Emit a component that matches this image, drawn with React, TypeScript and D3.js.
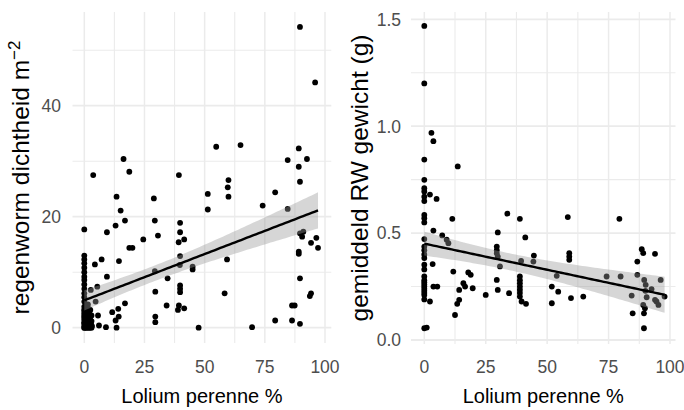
import React from "react";
import * as d3 from "d3";

// ---------- data ----------
const xTicks = [0, 25, 50, 75, 100];
const xMinor = [12.5, 37.5, 62.5, 87.5];
const leftYTicks = [0, 20, 40];
const leftYMinor = [10, 30, 50];
const rightYTicks = [0, 0.5, 1.0, 1.5];
const rightYLabels = ["0.0", "0.5", "1.0", "1.5"];
const rightYMinor = [0.25, 0.75, 1.25];

const xTitle = "Lolium perenne %";
const leftYTitle = "regenworm dichtheid m";
const leftYTitleSup = "\u22122";
const rightYTitle = "gemiddeld RW gewicht (g)";

// regenworm dichtheid (x = Lolium perenne %, y = density)
const densityPoints: [number, number][] = [
  [0, 17.7], [0, 13.0], [0, 12.3], [0, 11.6], [0, 10.8], [0, 10.0], [0, 9.2], [0, 8.6],
  [0, 7.8], [0, 7.0], [0, 6.2], [0, 5.5], [0, 4.7], [0, 3.8], [0, 3.0], [0, 2.2],
  [0, 1.5], [0, 0.8], [0, 0], [0.4, 0.3], [1, 0], [1, 0.6], [1, 1.5], [1, 2.5],
  [1, 3.5], [2, 0], [2, 1], [2, 2], [3, 0], [3, 1.2], [0.5, 2.8], [2.5, 3.2],
  [1.5, 4.2], [2.7, 6.8], [4.7, 4.7],
  // overlapping points in the dense cluster near the origin
  [0, 0], [0, 0.4], [0, 1], [0, 1.9], [0, 2.6], [0, 3.3], [0.5, 0], [0.5, 1.2],
  [0.5, 2], [0.8, 0.2], [1.2, 0.9], [1.3, 2], [1.5, 0], [1.5, 0.4], [1.5, 3],
  [1.8, 1.4], [2, 0.2], [2, 2.7], [2.2, 0.6], [2.4, 1.6], [2.5, 0], [2.8, 0.7],
  [3, 2.2], [3.2, 0.3], [0.3, 0.6], [0.7, 3.6], [1.1, 0.1], [0.2, 1.4], [2.6, 1.1],
  [1.9, 3.4],
  [3.7, 27.5], [4.4, 11.4], [5.4, 7.4], [5.7, 2.2], [6.1, 0.4], [7.2, 12.3], [9.0, 0.1],
  [9.4, 17.2], [9.4, 9.2], [11.6, 2.8], [13.0, 1.3], [13.4, 0], [13.0, 18.4], [13.4, 23.6],
  [14.1, 3.4], [14.3, 2.0], [14.4, 12.0], [15.1, 21.1], [16.3, 30.4], [16.9, 19.3],
  [16.9, 4.4], [18.7, 28.1], [18.7, 14.4], [20.0, 14.4], [24.5, 15.9], [28.9, 23.3],
  [29.3, 19.3], [29.3, 10.2], [29.5, 6.5], [29.5, 2.0], [29.5, 1.0], [30.6, 16.6],
  [34.2, 4.0], [34.6, 8.9], [38.9, 3.2], [39.2, 15.4], [39.3, 27.5], [39.3, 4.0],
  [39.8, 18.9], [39.8, 17.2], [39.8, 12.9], [39.7, 11.3], [39.8, 7.6], [39.8, 7.0],
  [39.8, 6.4], [41.5, 15.9], [41.5, 3.5], [45.0, 11.0], [45.0, 10.5], [47.5, 0],
  [51.3, 24.1], [51.3, 21.3], [54.8, 32.6], [58.3, 6.2], [59.3, 12.3], [59.6, 25.3],
  [59.9, 26.6], [59.9, 23.6], [64.9, 32.9], [69.7, 0.1], [74.1, 22.0], [79.3, 24.4],
  [79.3, 1.3], [84.5, 30.2], [84.5, 21.4], [86.3, 4.0], [87.4, 4.0], [86.3, 1.3],
  [89.1, 32.3], [89.1, 29.0], [89.6, 54.2], [89.6, 26.3], [89.6, 17.0], [90.5, 16.4],
  [91.0, 17.3], [89.1, 13.7], [89.1, 13.3], [89.6, 8.9], [89.6, 0.7], [92.5, 30.4],
  [93.7, 5.7], [94.2, 6.2], [94.2, 15.3], [95.9, 44.2], [96.4, 16.2], [97.1, 14.4],
];

// gemiddeld RW gewicht (x = Lolium perenne %, y = weight g)
const weightPoints: [number, number][] = [
  [0, 1.469], [0, 1.2], [0, 0.844], [0, 0.749], [0, 0.71], [0, 0.695], [0, 0.67],
  [0, 0.65], [0, 0.585], [0, 0.57], [0, 0.55], [0, 0.472], [0, 0.437], [0, 0.42],
  [0, 0.40], [0, 0.383], [0, 0.352], [0, 0.33], [0, 0.297], [0, 0.28], [0, 0.26],
  [0, 0.25], [0, 0.23], [0, 0.21], [0, 0.19], [0, 0.22], [0, 0.27], [0, 0.24],
  [0, 0.055], [1, 0.058],
  [2.3, 0.68], [2.9, 0.969], [3.7, 0.93], [5.0, 0.66], [3.4, 0.355], [3.7, 0.512],
  [3.7, 0.25], [5.3, 0.25], [2.3, 0.18], [7.3, 0.489], [9.1, 0.469], [9.8, 0.453],
  [11.4, 0.567], [11.8, 0.32], [12.5, 0.117], [13.4, 0.169], [13.6, 0.812], [14.2, 0.188],
  [14.2, 0.234], [15.9, 0.266], [16.6, 0.25], [17.9, 0.316], [18.9, 0.305], [19.7, 0.242],
  [25.0, 0.211], [29.5, 0.437], [29.5, 0.42], [29.5, 0.405], [29.9, 0.39], [29.5, 0.281],
  [29.9, 0.503], [29.9, 0.234], [30.8, 0.344], [33.8, 0.591], [34.5, 0.219], [38.9, 0.567],
  [39.4, 0.37], [38.9, 0.297], [38.9, 0.28], [38.9, 0.265], [38.9, 0.25], [38.9, 0.235],
  [38.9, 0.22], [38.9, 0.203], [39.6, 0.18], [41.1, 0.48], [41.4, 0.169], [44.6, 0.395],
  [44.4, 0.367], [51.9, 0.25], [51.9, 0.172], [53.9, 0.30], [54.5, 0.226], [58.4, 0.575],
  [59.0, 0.406], [59.0, 0.39], [59.0, 0.375], [59.7, 0.196], [64.7, 0.203], [74.2, 0.297],
  [79.4, 0.567], [79.9, 0.297], [84.4, 0.208], [84.8, 0.125], [86.7, 0.367], [86.7, 0.305],
  [88.5, 0.425], [89.1, 0.406], [89.5, 0.281], [90.1, 0.258], [89.1, 0.164], [89.8, 0.149],
  [89.4, 0.125], [89.4, 0.055], [92.5, 0.238], [93.9, 0.403], [93.9, 0.188], [95.3, 0.164],
  [96.2, 0.281], [97.8, 0.203], [90.0, 0.23], [90.5, 0.2], [94.5, 0.18],
];

// ---------- helpers ----------
function lmFit(pts: [number, number][]) {
  const n = pts.length;
  const xbar = d3.mean(pts, (p) => p[0]) as number;
  const ybar = d3.mean(pts, (p) => p[1]) as number;
  let sxx = 0, sxy = 0;
  pts.forEach(([x, y]) => { sxx += (x - xbar) ** 2; sxy += (x - xbar) * (y - ybar); });
  const b = sxy / sxx;
  const a = ybar - b * xbar;
  let sse = 0;
  pts.forEach(([x, y]) => { sse += (y - (a + b * x)) ** 2; });
  const s = Math.sqrt(sse / (n - 2));
  const t = 1.98;
  const [xmin, xmax] = d3.extent(pts, (p) => p[0]) as [number, number];
  const grid = d3.range(80).map((i) => xmin + (i * (xmax - xmin)) / 79);
  return grid.map((x) => {
    const fit = a + b * x;
    const se = s * Math.sqrt(1 / n + (x - xbar) ** 2 / sxx);
    return { x, fit, lo: fit - t * se, hi: fit + t * se };
  });
}

const FONT = "'Liberation Sans', Arial, sans-serif";
const GRID = "#EBEBEB";
const TICKC = "#4D4D4D";

type PanelProps = {
  points: [number, number][];
  xRange: [number, number];
  panelX: [number, number];
  yDomain: [number, number];
  yRange: [number, number];
  panelY: [number, number];
  yTicks: number[];
  yLabels: string[];
  yMinor: number[];
  yLabelX: number;
  yTitleX: number;
  yTitle: string;
  yTitleSup?: string;
};

function Panel(p: PanelProps) {
  const x = d3.scaleLinear().domain([0, 100]).range(p.xRange);
  const y = d3.scaleLinear().domain(p.yDomain).range(p.yRange);
  const fit = lmFit(p.points);
  const area = d3.area<any>().x((d) => x(d.x)).y0((d) => y(d.lo)).y1((d) => y(d.hi));
  const line = d3.line<any>().x((d) => x(d.x)).y((d) => y(d.fit));
  const cx = (p.panelX[0] + p.panelX[1]) / 2;
  const cy = (p.panelY[0] + p.panelY[1]) / 2;
  return (
    <g>
      {p.yMinor.map((v) => (
        <line key={"ym" + v} x1={p.panelX[0]} x2={p.panelX[1]} y1={y(v)} y2={y(v)} stroke={GRID} strokeWidth={1.1} />
      ))}
      {xMinor.map((v) => (
        <line key={"xm" + v} x1={x(v)} x2={x(v)} y1={p.panelY[0]} y2={p.panelY[1]} stroke={GRID} strokeWidth={1.1} />
      ))}
      {p.yTicks.map((v) => (
        <line key={"yg" + v} x1={p.panelX[0]} x2={p.panelX[1]} y1={y(v)} y2={y(v)} stroke={GRID} strokeWidth={1.8} />
      ))}
      {xTicks.map((v) => (
        <line key={"xg" + v} x1={x(v)} x2={x(v)} y1={p.panelY[0]} y2={p.panelY[1]} stroke={GRID} strokeWidth={1.5} />
      ))}
      {p.points.map(([px, py], i) => (
        <circle key={i} cx={x(px)} cy={y(py)} r={2.9} fill="#000" />
      ))}
      <path d={area(fit) || ""} fill="#999999" fillOpacity={0.4} />
      <path d={line(fit) || ""} fill="none" stroke="#000" strokeWidth={2.4} />
      {p.yTicks.map((v, i) => (
        <text key={"yl" + v} x={p.yLabelX} y={y(v)} dy="0.36em" textAnchor="end" fontSize={17.5} fill={TICKC} fontFamily={FONT}>
          {p.yLabels[i]}
        </text>
      ))}
      {xTicks.map((v) => (
        <text key={"xl" + v} x={x(v)} y={373} textAnchor="middle" fontSize={17.5} fill={TICKC} fontFamily={FONT}>
          {v}
        </text>
      ))}
      <text x={cx} y={403} textAnchor="middle" fontSize={20} fill="#000" fontFamily={FONT}>
        {xTitle}
      </text>
      <text transform={`translate(${p.yTitleX},${cy}) rotate(-90)`} textAnchor="middle" fontSize={24.5} fill="#000" fontFamily={FONT}>
        {p.yTitle}
        {p.yTitleSup ? (
          <tspan dy={-9} fontSize={17}>{p.yTitleSup}</tspan>
        ) : null}
      </text>
    </g>
  );
}

export default function App() {
  return (
    <svg width={684} height={410} style={{ position: "absolute", left: 0, top: 0, background: "#fff" }}>
      <rect width={684} height={410} fill="#fff" />
      <Panel
        points={densityPoints}
        xRange={[84.3, 325]}
        panelX={[72.5, 331.3]}
        yDomain={[0, 40]}
        yRange={[327.7, 105.7]}
        panelY={[12, 343]}
        yTicks={leftYTicks}
        yLabels={leftYTicks.map(String)}
        yMinor={leftYMinor}
        yLabelX={61}
        yTitleX={29}
        yTitle={leftYTitle}
        yTitleSup={leftYTitleSup}
      />
      <Panel
        points={weightPoints}
        xRange={[424.3, 670]}
        panelX={[411, 675.5]}
        yDomain={[0, 1.5]}
        yRange={[340, 19.3]}
        panelY={[12, 344]}
        yTicks={rightYTicks}
        yLabels={rightYLabels}
        yMinor={rightYMinor}
        yLabelX={401}
        yTitleX={368}
        yTitle={rightYTitle}
      />
    </svg>
  );
}
